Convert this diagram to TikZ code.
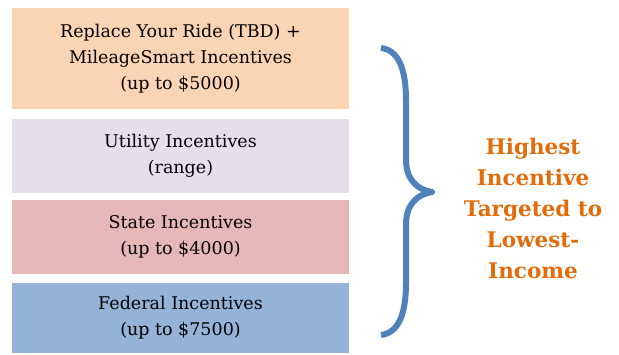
\documentclass[tikz,border=0pt]{standalone}
\usepackage{fontspec}
\setmainfont{DejaVu Serif}
\definecolor{peach}{HTML}{FBD4B4}
\definecolor{lilac}{HTML}{E5DFEC}
\definecolor{rose}{HTML}{E5B8B7}
\definecolor{steel}{HTML}{95B3D7}
\definecolor{bracecol}{HTML}{4F81BD}
\definecolor{orangetext}{HTML}{E36C0A}
\begin{document}
\begin{tikzpicture}[x=1pt,y=-1pt,
  tier/.style={minimum width=337pt, inner sep=0pt, align=center, text=black,
    font=\fontsize{17.5}{26}\selectfont},
  note/.style={align=center, text=orangetext,
    font=\fontsize{21.5}{31}\selectfont\bfseries}]
\useasboundingbox (0,0) rectangle (619,354);
\node[tier, fill=peach, minimum height=101pt] (ride) at (180.5,58.5)
  {Replace Your Ride (TBD) +\\MileageSmart Incentives\\(up to \$5000)};
\node[tier, fill=lilac, minimum height=74pt] (utility) at (180.5,156)
  {Utility Incentives\\(range)};
\node[tier, fill=rose, minimum height=74pt] (state) at (180.5,237)
  {State Incentives\\(up to \$4000)};
\node[tier, fill=steel, minimum height=70pt] (federal) at (180.5,318)
  {Federal Incentives\\(up to \$7500)};
% curly brace grouping the tiers
\draw[bracecol, line width=6pt, line join=round]
  (381,48) .. controls (398,50) and (406,68) .. (406,100) -- (406,160)
  .. controls (406,180) and (418,190) .. (432,192)
  .. controls (418,194) and (406,204) .. (406,224) -- (406,283)
  .. controls (406,315) and (398,333) .. (381,335);
\node[note] (label) at (533,208)
  {Highest\\Incentive\\Targeted to\\Lowest-\\Income};
\end{tikzpicture}
\end{document}
